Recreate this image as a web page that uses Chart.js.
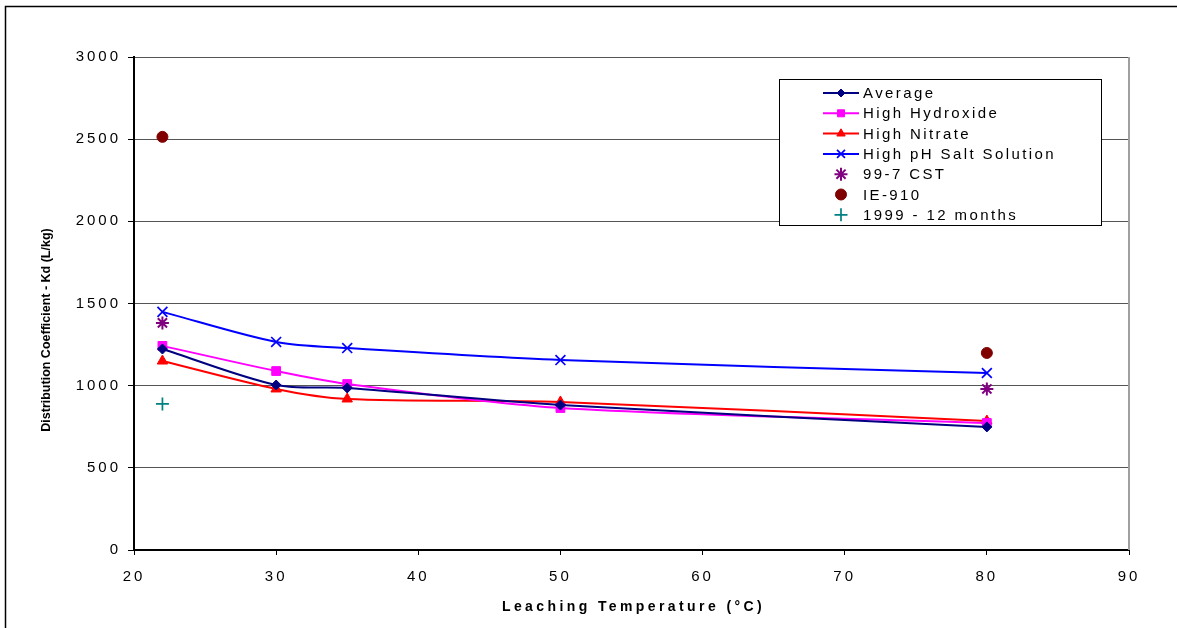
<!DOCTYPE html>
<html>
<head>
<meta charset="utf-8">
<script src="https://cdn.jsdelivr.net/npm/chart.js@4/dist/chart.umd.min.js"></script>
<style>
html,body{margin:0;padding:0;background:#fff;overflow:hidden;}
#wrap{position:absolute;left:0;top:0;width:1177px;height:628px;}
</style>
</head>
<body>
<div id="wrap"><canvas id="c" width="1177" height="628"></canvas></div>
<script>
// ---- data ----
const xTickValues = [20, 30, 40, 50, 60, 70, 80, 90];
const yTickValues = [0, 500, 1000, 1500, 2000, 2500, 3000];
const temps = [22, 30, 35, 50, 80];
const average = [1223, 1004, 986, 882, 749];
const highHydroxide = [1242, 1089, 1010, 864, 773];
const highNitrate = [1150, 980, 919, 901, 785];
const highPHSalt = [1449, 1266, 1229, 1156, 1077];
const cstTemps = [22, 80];
const cst997 = [1382, 980];
const ie910Temps = [22, 80];
const ie910 = [2514, 1199];
const months12Temps = [22];
const months12 = [889];
const seriesNames = ['Average', 'High Hydroxide', 'High Nitrate', 'High pH Salt Solution', '99-7 CST', 'IE-910', '1999 - 12 months'];
const xTitle = 'Leaching Temperature (°C)';
const yTitle = 'Distribution Coefficient - Kd (L/kg)';

const FONT = "'Liberation Sans', Arial, sans-serif";
const pts = (xs, ys) => xs.map((x, i) => ({x: x, y: ys[i]}));

function lineDs(label, xs, ys, color, style, radius, bw) {
  return {label, data: pts(xs, ys), showLine: true, tension: 0.3,
    borderColor: color, backgroundColor: color, borderWidth: 2,
    pointStyle: style, pointRadius: radius, pointHoverRadius: radius,
    pointBorderWidth: bw, isLine: true};
}
function markDs(label, xs, ys, color, style, radius, bw) {
  return {label, data: pts(xs, ys), showLine: false,
    borderColor: color, backgroundColor: color,
    pointStyle: style, pointRadius: radius, pointHoverRadius: radius,
    pointBorderWidth: bw, isLine: false};
}

const datasets = [
  lineDs(seriesNames[0], temps, average, '#000080', 'rectRot', 5, 1),
  lineDs(seriesNames[1], temps, highHydroxide, '#FF00FF', 'rect', 6.2, 1),
  lineDs(seriesNames[2], temps, highNitrate, '#FF0000', 'triangle', 6, 1),
  lineDs(seriesNames[3], temps, highPHSalt, '#0000FF', 'crossRot', 7, 1.7),
  markDs(seriesNames[4], cstTemps, cst997, '#800080', 'star', 6.5, 2),
  markDs(seriesNames[5], ie910Temps, ie910, '#800000', 'circle', 5.5, 1),
  markDs(seriesNames[6], months12Temps, months12, '#008080', 'cross', 6.5, 1.7)
];

const framePlugin = {
  id: 'frame',
  beforeDraw(chart) {
    const ctx = chart.ctx;
    ctx.save();
    ctx.strokeStyle = '#000';
    ctx.lineWidth = 1.5;
    ctx.strokeRect(5.5, 6.5, 1300, 700);
    ctx.restore();
    ctx.letterSpacing = '3px';
  },
  afterDraw(chart) {
    const ctx = chart.ctx;
    const a = chart.chartArea;
    ctx.save();
    ctx.letterSpacing = '0px';
    // right border of plot area
    ctx.strokeStyle = '#a0a0a0';
    ctx.lineWidth = 2;
    ctx.beginPath();
    ctx.moveTo(a.right, a.top);
    ctx.lineTo(a.right, a.bottom);
    ctx.stroke();

    // axis titles
    ctx.fillStyle = '#000';
    ctx.font = 'bold 14px ' + FONT;
    ctx.letterSpacing = '3.4px';
    ctx.textAlign = 'center';
    ctx.textBaseline = 'middle';
    ctx.fillText(xTitle, (a.left + a.right) / 2 + 2, 607);
    ctx.letterSpacing = '0px';
    ctx.font = 'bold 12.5px ' + FONT;
    ctx.translate(47, 330);
    ctx.rotate(-Math.PI / 2);
    ctx.fillText(yTitle, 0, 0);
    ctx.restore();

    // legend
    ctx.save();
    ctx.letterSpacing = '0px';
    const lx = 779.5, ly = 79.5, lw = 322, lh = 146;
    ctx.fillStyle = '#fff';
    ctx.fillRect(lx, ly, lw, lh);
    ctx.strokeStyle = '#000';
    ctx.lineWidth = 1;
    ctx.strokeRect(lx, ly, lw, lh);
    chart.data.datasets.forEach((ds, i) => {
      const y = 93 + i * 20.3;
      ctx.strokeStyle = ds.borderColor;
      ctx.fillStyle = ds.backgroundColor;
      if (ds.isLine) {
        ctx.lineWidth = 2;
        ctx.beginPath();
        ctx.moveTo(823, y);
        ctx.lineTo(859, y);
        ctx.stroke();
      }
      ctx.lineWidth = ds.pointBorderWidth;
      const r = ds.isLine ? ds.pointRadius * 0.8 : ds.pointRadius;
      Chart.helpers.drawPoint(ctx, {pointStyle: ds.pointStyle, radius: r, rotation: 0, borderWidth: ds.pointBorderWidth}, 841, y);
      ctx.fillStyle = '#000';
      ctx.font = '15px ' + FONT;
      ctx.letterSpacing = '2.4px';
      ctx.textAlign = 'left';
      ctx.textBaseline = 'middle';
      ctx.fillText(ds.label, 863, y + 1);
      ctx.letterSpacing = '0px';
    });
    ctx.restore();
  }
};

new Chart(document.getElementById('c'), {
  type: 'scatter',
  data: {datasets},
  options: {
    responsive: false,
    animation: false,
    events: [],
    layout: {padding: {left: 0, top: 57, right: 48, bottom: 0}},
    plugins: {legend: {display: false}, tooltip: {enabled: false}, title: {display: false}},
    scales: {
      x: {
        type: 'linear', min: 20, max: 90,
        afterBuildTicks: s => { s.ticks = xTickValues.map(v => ({value: v})); },
        afterFit: s => { s.height = 78; },
        ticks: {color: '#000', font: {family: FONT, size: 15}, padding: 13, maxRotation: 0, callback: v => String(v)},
        grid: {display: true, drawOnChartArea: false, drawTicks: true, tickLength: 5, color: '#000', lineWidth: 1},
        border: {display: true, color: '#000', width: 2},
        title: {display: false}
      },
      y: {
        min: 0, max: 3000,
        afterBuildTicks: s => { s.ticks = yTickValues.map(v => ({value: v})); },
        afterFit: s => { s.width = 134; },
        ticks: {color: '#000', font: {family: FONT, size: 15}, padding: 7, callback: v => String(v)},
        grid: {color: '#555', lineWidth: 1, drawTicks: true, tickLength: 6, tickColor: '#000'},
        border: {display: true, color: '#000', width: 2},
        title: {display: false}
      }
    }
  },
  plugins: [framePlugin]
});
</script>
</body>
</html>
